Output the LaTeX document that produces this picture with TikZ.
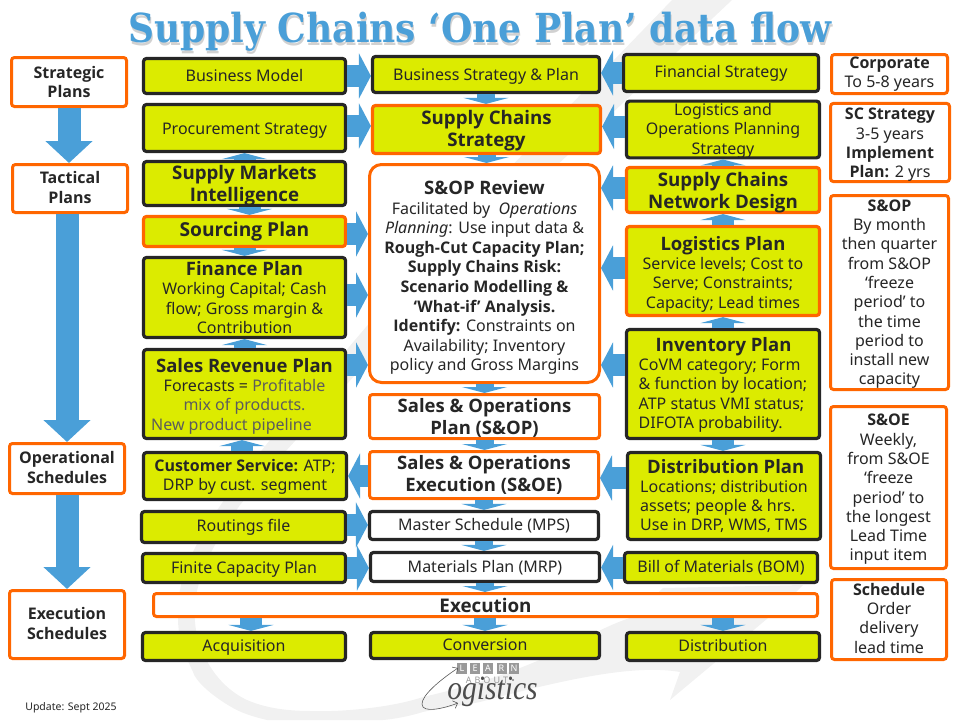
\documentclass[tikz,border=0pt]{standalone}
\usepackage{fontspec}
\setmainfont{Noto Sans}[BoldFont={Open Sans Bold}]
\newfontfamily\titlefont{DejaVu Serif}
\newfontfamily\logofont{Liberation Serif}
\usepackage{tikz}
\usetikzlibrary{arrows.meta}
\definecolor{ink}{HTML}{262626}
\definecolor{lime}{HTML}{DCEB00}
\definecolor{flame}{HTML}{FF6600}
\definecolor{flow}{HTML}{4A9FD8}
\definecolor{swoosh}{HTML}{F1F1F1}
\newcommand{\bodyfont}{\fontsize{16}{19.3}\selectfont}
\newcommand{\headfont}{\fontsize{18.7}{22}\selectfont\bfseries}
\newcommand{\subhead}{\fontsize{18.5}{20}\selectfont}
\newcommand{\pushdown}[1]{\rule{0pt}{#1pt}}
\newcommand{\pushup}[1]{\rule[-#1pt]{0pt}{0pt}}
\tikzset{
    box/.style={rectangle, rounded corners=3pt, inner sep=0pt, align=center, text=ink, font=\bodyfont},
    dim/.style 2 args={minimum width=#1pt, minimum height=#2pt},
    greenblack/.style={box, draw=ink, line width=3.2pt, fill=lime},
    greenorange/.style={box, draw=flame, line width=3.2pt, fill=lime},
    whiteorange/.style={box, draw=flame, line width=3pt, fill=white},
    whiteblack/.style={box, draw=ink, line width=3.2pt, fill=white},
    bigflow/.style={draw=flow, line width=23pt, -{Triangle[length=22pt, width=46pt]}},
    sideflow/.style={draw=flow, line width=22pt, -{Triangle[length=12pt, width=45pt]}},
    gapflow/.style={draw=flow, line width=22pt, -{Triangle[length=6pt, width=45pt]}},
    thinflow/.style={gapflow, line width=18pt},
}
\begin{document}
\begin{tikzpicture}[x=1pt, y=-1pt]
    \useasboundingbox (0,0) rectangle (960,720);

    % watermark
    \fill[swoosh] (672,0) -- (732,0) -- (480,238) -- (285,452) -- (240,505)
        .. controls (205,555) and (192,590) .. (195,622)
        .. controls (197,650) and (215,685) .. (247,700)
        .. controls (270,710) and (295,711) .. (313,711)
        .. controls (340,712) and (390,708) .. (423,697)
        .. controls (470,686) and (520,672) .. (577,642)
        .. controls (600,630) and (620,620) .. (640,615)
        -- (747,607) -- (643,607) -- (663,588) -- (803,585) -- (780,608) -- (670,700) -- (680,672)
        .. controls (640,665) and (580,675) .. (480,702)
        .. controls (460,706) and (440,708) .. (423,712)
        .. controls (410,716) and (395,719) .. (383,720)
        -- (267,720) .. controls (250,716) and (240,712) .. (233,708)
        .. controls (210,695) and (195,680) .. (193,672)
        .. controls (185,655) and (178,640) .. (178,618)
        .. controls (175,570) and (205,520) .. (270,440) -- (440,240) -- cycle;

    % title
    \node[font=\titlefont\bfseries\fontsize{40}{44}\selectfont, text=black!18, xscale=0.90] (titleshade) at (481,34.5) {Supply Chains ‘One Plan’ data flow};
    \node[font=\titlefont\bfseries\fontsize{40}{44}\selectfont, text=flow, xscale=0.90] (title) at (480,32) {Supply Chains ‘One Plan’ data flow};

    % horizons, left
    \node[whiteorange, dim={115}{49}, font=\bodyfont\bfseries] (strategic) at (69,82) {Strategic\\Plans};
    \node[whiteorange, dim={115}{48}, font=\bodyfont\bfseries] (tactical) at (70,188.5) {Tactical\\Plans\pushup{2}};
    \node[whiteorange, dim={115}{50}, font=\bodyfont\bfseries] (operational) at (67,468.5) {Operational\\Schedules\pushup{2}};
    \node[whiteorange, dim={115}{68}, font=\bodyfont\bfseries] (execsched) at (67,624.5) {Execution\\Schedules\pushup{2}};

    % first column
    \node[greenblack, dim={202}{35}] (bmodel) at (244.5,76) {Business Model\pushup{2}};
    \node[greenblack, dim={202}{47}] (procure) at (244.5,128) {\pushdown{16.3}Procurement Strategy};
    \node[greenblack, dim={202}{42}, font=\headfont] (markets) at (244.5,183.5) {\pushdown{17.5}Supply Markets\\Intelligence};
    \node[greenorange, dim={202}{30}, font=\bodyfont\fontsize{19.2}{21}\selectfont\bfseries] (sourcing) at (244.5,231.5) {Sourcing Plan};
    \node[greenblack, dim={202}{80}] (finance) at (244.5,297.5) {\textbf{\subhead Finance Plan}\\Working Capital; Cash\\flow; Gross margin \&\\Contribution};
    \node[greenblack, dim={202}{89}] (salesrev) at (244.5,394) {\pushdown{18.3}\textbf{\subhead Sales Revenue Plan}\\Forecasts = \textcolor{ink!75}{Profitable}\\\textcolor{ink!75}{mix of products.}\\\textcolor{ink!75}{New product pipeline}\hspace*{26pt}};
    \node[greenblack, dim={203}{47}] (customer) at (245,476) {\pushdown{14}\textbf{Customer Service:} ATP;\\DRP by cust. segment};
    \node[greenblack, dim={204}{31}] (routings) at (243.5,527) {Routings file};
    \node[greenblack, dim={203}{29}] (finite) at (244,568) {\pushdown{14.3}Finite Capacity Plan};
    \node[greenblack, dim={203}{28}] (acquire) at (244,646.5) {\pushdown{14.3}Acquisition};

    % second column
    \node[greenblack, dim={227}{36}] (bstrategy) at (486,74.5) {\pushdown{16.3}Business Strategy \& Plan};
    \node[greenorange, dim={228}{48}, font=\headfont] (scstrategy) at (486.5,129.5) {\pushdown{16.5}Supply Chains\\Strategy};
    \node[whiteorange, dim={230}{218}, rounded corners=12pt, font=\fontsize{16}{19.6}\selectfont] (review) at (484.5,273.5) {\pushdown{22.3}\textbf{\subhead S\&OP Review}\\Facilitated by \ \textit{Operations}\\\textit{Planning}: Use input data \&\\\textbf{Rough-Cut Capacity Plan;}\\\textbf{Supply Chains Risk:}\\\textbf{Scenario Modelling \&}\\\textbf{‘What-if’ Analysis.}\\\textbf{Identify:} Constraints on\\Availability; Inventory\\policy and Gross Margins};
    \node[whiteorange, dim={230}{44}, font=\bodyfont\fontsize{18.5}{22}\selectfont\bfseries] (sop) at (484.5,416.5) {\pushdown{17}Sales \& Operations\\Plan (S\&OP)};
    \node[whiteorange, dim={229}{47}, font=\bodyfont\fontsize{18.5}{22}\selectfont\bfseries] (soe) at (484,475) {Sales \& Operations\\Execution (S\&OE)};
    \node[whiteblack, dim={229}{28}] (mps) at (484,525.5) {Master Schedule (MPS)};
    \node[whiteblack, dim={229}{29}] (mrp) at (485,567) {\pushdown{14.3}Materials Plan (MRP)};
    \node[greenblack, dim={229}{26}] (convert) at (485,645.5) {Conversion\pushup{2}};
    \node[whiteorange, dim={664}{23}, font=\bodyfont\fontsize{18.8}{20}\selectfont\bfseries] (execution) at (485.5,605) {Execution};

    % third column
    \node[greenblack, dim={195}{37}] (finstrategy) at (721,73) {Financial Strategy};
    \node[greenblack, dim={193}{56}] (logops) at (723,129.5) {\pushdown{14.3}Logistics and\\Operations Planning\\Strategy};
    \node[greenorange, dim={193}{45}, font=\headfont] (network) at (723,190) {\pushdown{18.5}Supply Chains\\Network Design};
    \node[greenorange, dim={193}{89}] (logplan) at (723,271) {\pushdown{20.3}\textbf{\subhead Logistics Plan}\\Service levels; Cost to\\Serve; Constraints;\\Capacity; Lead times};
    \node[greenblack, dim={193}{109}, align=left] (inventory) at (723,384) {\pushdown{15.5}\hspace*{17pt}\textbf{\subhead Inventory Plan}\\CoVM category; Form\\\& function by location;\\ATP status VMI status;\\DIFOTA probability.};
    \node[greenblack, dim={193}{87}, align=left] (distplan) at (724,496) {\hspace*{7pt}\textbf{\subhead Distribution Plan}\\Locations; distribution\\assets; people \& hrs.\\Use in DRP, WMS, TMS};
    \node[greenblack, dim={193}{30}] (bom) at (721,567.5) {Bill of Materials (BOM)};
    \node[greenblack, dim={193}{28}] (distrib) at (723,646.5) {Distribution\pushup{2}};

    % horizons, right
    \node[whiteorange, dim={116}{39}] (corporate) at (889.5,74) {\textbf{Corporate}\\To 5-8 years};
    \node[whiteorange, dim={119}{78}] (scnote) at (890,142.5) {\pushdown{16.5}\textbf{SC Strategy}\\3-5 years\\\textbf{Implement}\\\textbf{Plan:} 2 yrs};
    \node[whiteorange, dim={118}{194}] (sopnote) at (889.5,292.5) {\pushdown{15}\textbf{S\&OP}\\By month\\then quarter\\from S\&OP\\‘freeze\\period’ to\\the time\\period to\\install new\\capacity};
    \node[whiteorange, dim={116}{162}] (soenote) at (888.5,487.5) {\pushdown{15.7}\textbf{S\&OE}\\Weekly,\\from S\&OE\\‘freeze\\period’ to\\the longest\\Lead Time\\input item};
    \node[whiteorange, dim={115}{80}] (schednote) at (889,619.5) {\textbf{Schedule}\\Order\\delivery\\lead time\pushup{3}};

    % Arrows, left
    \draw[bigflow] (strategic.south) -- (strategic.south |- tactical.north);
    \draw[bigflow] ([xshift=-3pt]tactical.south) -- ([xshift=-3pt]tactical.south |- operational.north);
    \draw[bigflow] (operational.south) -- (operational.south |- execsched.north);

    % Arrows into the second column
    \draw[sideflow] (bmodel.east) -- (bmodel.east -| bstrategy.west);
    \draw[sideflow] ([yshift=2pt]procure.east) -- ([yshift=2pt]procure.east -| scstrategy.west);
    \draw[sideflow] ([yshift=-2.5pt]sourcing.east) -- ([yshift=-2.5pt]sourcing.east -| review.west);
    \draw[sideflow] ([yshift=2.5pt]finance.east) -- ([yshift=2.5pt]finance.east -| review.west);
    \draw[sideflow] ([yshift=29pt]salesrev.east) -- ([yshift=29pt]salesrev.east -| review.west);
    \draw[sideflow] (soe.west |- customer.east) -- (customer.east);
    \draw[sideflow] ([yshift=2pt]routings.east) -- ([yshift=2pt]routings.east -| mps.west);
    \draw[sideflow] (finite.east) -- (finite.east -| mrp.west);
    \draw[sideflow] (finstrategy.west) -- (finstrategy.west -| bstrategy.east);
    \draw[sideflow] ([yshift=3pt]logops.west) -- ([yshift=3pt]logops.west -| scstrategy.east);
    \draw[sideflow] ([yshift=2pt]network.west) -- ([yshift=2pt]network.west -| review.east);
    \draw[sideflow] ([yshift=3pt]logplan.west) -- ([yshift=3pt]logplan.west -| review.east);
    \draw[sideflow] ([yshift=19pt]inventory.west) -- ([yshift=19pt]inventory.west -| review.east);
    \draw[sideflow] ([yshift=18pt]distplan.west) -- ([yshift=18pt]distplan.west -| soe.east);
    \draw[sideflow] (bom.west) -- (bom.west -| mrp.east);

    % Arrows up and down the columns
    \draw[gapflow] (markets.north) -- (markets.north |- procure.south);
    \draw[gapflow] ([xshift=5pt]markets.south) -- ([xshift=5pt]markets.south |- sourcing.north);
    \draw[gapflow] (sourcing.south) -- (sourcing.south |- finance.north);
    \draw[gapflow] (salesrev.north) -- (salesrev.north |- finance.south);
    \draw[gapflow] ([xshift=-3pt]customer.north) -- ([xshift=-3pt]customer.north |- salesrev.south);
    \draw[gapflow] ([xshift=7pt]execution.south -| acquire.north) -- ([xshift=7pt]acquire.north);
    \draw[thinflow] (bstrategy.south) -- (bstrategy.south |- scstrategy.north);
    \draw[thinflow] (scstrategy.south) -- (scstrategy.south |- review.north);
    \draw[thinflow] (review.south) -- (review.south |- sop.north);
    \draw[thinflow] (sop.south) -- (sop.south |- soe.north);
    \draw[thinflow] (soe.south) -- (soe.south |- mps.north);
    \draw[thinflow] (mps.south) -- (mps.south |- mrp.north);
    \draw[thinflow] (mrp.south) -- (mrp.south |- execution.north);
    \draw[gapflow] (execution.south -| convert.north) -- (convert.north);
    \draw[gapflow] (network.north) -- (network.north |- logops.south);
    \draw[gapflow] (logplan.north) -- (logplan.north |- network.south);
    \draw[gapflow] (inventory.north) -- (inventory.north |- logplan.south);
    \draw[gapflow] (inventory.south) -- (inventory.south |- distplan.north);
    \draw[gapflow] (execution.south -| distrib.north) -- (distrib.north);

    % logo
    \foreach \letter/\lx in {L/462,E/475,A/488,R/501.5,N/514}
        \node[fill=black!40, text=white, minimum width=10pt, minimum height=11pt, inner sep=0pt, font=\fontsize{9}{10}\selectfont] (logo\letter) at (\lx,668.5) {\letter};
    \node[text=black!40, inner sep=0pt, font=\fontsize{9}{10}\selectfont] (logoabout) at (487,680) {A\,\,B\,\,O\,\,U\,\,T};
    \fill[black!50] (513,680) circle (1.2pt);
    \node[text=black!70, inner sep=0pt, xscale=0.87, font=\logofont\itshape\fontsize{34}{36}\selectfont] (logoword) at (492.5,692) {ogistics};
    \coordinate (logostart) at (458,668);
    \coordinate (logoend) at (458,703);
    \draw[black!65, line width=0.6pt, {Straight Barb[length=4pt]}-{Straight Barb[length=4pt]}] (logostart) .. controls (440,680) and (422,695) .. (422,704) .. controls (422,714) and (445,708) .. (logoend);

    \node[font=\fontsize{10.5}{12}\selectfont, text=ink, inner sep=0pt] (update) at (71,708) {Update: Sept 2025};
\end{tikzpicture}
\end{document}
